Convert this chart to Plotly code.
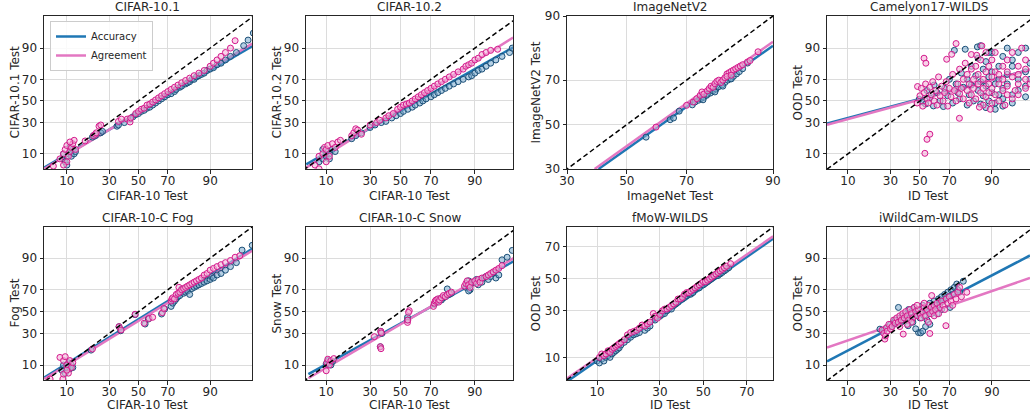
import plotly.graph_objects as go
from statistics import NormalDist

# ---------------- data (percent values) ----------------
DIAG = [0.5, 99.5]

C101_ACC = [(9,8),(9.5,7),(10,9),(10.5,10),(11,11),(11.5,9),(12,12),(10,6),(12.5,10),(13,11),(9,10),(11,13),
            (20.5,19),(21,20),(22,20),(25,22),(26,23),
            (35,27),(36,28),(40,30),(44,33),(46,35),(48,37),(50,38),(52,40),(54,41),(56,43),(58,44),(60,46),
            (62,48),(64,50),(66,52),(68,54),(70,56),(72,57),(74,59),(75,61),(77,63),(78,64),(80,66),(81,67),
            (82,68),(83,70),(84,70),(85,72),(86,73),(87,74),(88,75),(89,77),(90,78),(91,79),(92,81),(93,82),
            (94,84),(95,86),(96,88),(97,91),(97.5,93),(98,95)]
C101_AGR = [(6.4,5.7),(8,8),(9,10),(9.5,12),(10,14),(10.5,9),(11,11),(11.5,13),(12,15),(12.5,17),(13,12),(10,7),
            (9,6),(11,16),(17,16.6),(21,20),(22,21),(22.5,22),(24,27),(25,28),(36,31),(38,33),(42,33),(44,30.5),
            (44.5,34),(48,38),(50,40),(52,42),(54,43),(56,46),(58,47),(60,49),(62,51),(64,53),(66,55),(68,57),
            (70,59),(72,61),(74,63),(76,65),(78,67),(80,69),(82,71),(84,73),(86,75),(88,77),(90,80),(91,82),
            (92,84),(93,86),(94,88),(95,90),(95.8,92.8)]
C101_FIT_ACC = [(4.6,5.3),(97.9,90.8)]
C101_FIT_AGR = [(4.6,5.0),(97.9,91.8)]

C102_ACC = [(8,7),(9,8),(10,9),(10,11),(11,10),(12,12),(13,11),(9,12),(11,8),(20,18),(22,20),(25,22),
            (30,26),(33,28),(37,30),(40,31),(44,34),(47,36),(50,38),(52,40),(55,42),(58,44),(60,46),(63,48),
            (65,50),(67,52),(70,54),(72,56),(74,58),(76,60),(78,62),(80,64),(82,66),(84,68),(86,70),(88,72),
            (89,73),(90,75),(91,77),(92,78),(93,80),(94,82),(95,84),(96,86),(97,88),(97.3,90)]
C102_AGR = [(7,6),(8,9),(9,10),(9.5,13),(10,12),(10.5,14),(11,9),(12,15),(13,13),(14,16),(15,17),(8,5),(10,7),
            (20,20),(21,22),(22,25),(23,24),(25,21),(30,28),(34,30),(36,32),(40,34),(42,36),(45,38),(48,42),
            (50,44),(52,46),(54,47),(56,48),(58,50),(60,52),(62,54),(64,56),(66,58),(68,60),(70,62),(72,64),
            (74,66),(76,68),(78,70),(80,72),(82,74),(84,76),(86,78),(87,80),(88,81),(89,82),(90,84),(91,85),
            (92,87),(93,88),(94,89),(95.3,89.5)]
C102_FIT_ACC = [(5.2,6.2),(97.4,90.3)]
C102_FIT_AGR = [(5.2,5.3),(97.4,93.8)]

INV2_ACC = [(56.7,44.1),(64.8,52.3),(65.9,53.1),(67.7,56.3),(71.7,59.2),(72.5,60.5),(73.5,61.3),(74.2,62.0),
            (75,62.6),(75.8,63.5),(76.8,64.5),(77.5,65.5),(78.3,66.2),(79,67.3),(79.8,68),(80.5,69),(81.2,70),
            (81.8,70.6),(82.5,71.5),(83.2,72.5),(83.8,73.4),(84.5,74.5),(85.5,76.6),(78,65),(80,67.5),
            (82,70.5),(76,64),(74.8,61.5)]
INV2_AGR = [(60.1,48.8),(70,59),(72,60.5),(73,62),(74,63.5),(74.5,65),(75,64),(76,65.5),(76.5,66.5),(77,67.5),
            (77.5,67),(78,68.5),(78.5,69.5),(79,70),(79.5,69),(80,70),(80.5,71),(81,72.5),(81.5,73),(82,73.5),
            (82.5,74),(83,74.5),(83.5,75),(84,75.5),(84.5,76),(85.5,77),(86,77.5),(87.5,80.5),(81,71.5),(82,72)]
INV2_FIT_ACC = [(40.2,30),(90,82.4)]
INV2_FIT_AGR = [(38.9,30),(90,83.6)]

CAM_ACC = [(49.5,51.6),(52,49),(54,47),(55,60),(57,53),(59.5,45.2),(60,65),(62,58),(64,50),(66.2,44.6),(67,62),
           (69,55),(70,70),(72,48),(73,89),(74,66),(75,58),(76,52),(77,75),(78,63),(79,89.5),(80,46),(80,70),
           (81,56),(82,80),(82,65),(83,50),(84,73),(84.7,90.5),(85,60),(85,85),(86,68),(86,47),(87,78),(87,55),
           (88,43.6),(88,64),(88,83),(89,72),(89,50),(90,88),(90,58),(90,76),(91,66),(91,48),(92,80),(92,56),
           (92,70),(93,86),(93,62),(93,52),(94,74),(94,90),(94,66),(95,80),(95,56),(95,84),(96,70),(96,60),
           (96,88),(97,76),(97,64),(97,90),(97.5,82),(97.5,70),(98,86),(98,74),(98,91),(98,66),(97,54),(95,48),
           (93,45),(91,42),(89,88),(86,91)]
CAM_AGR = [(53.5,10.2),(55,17.6),(57,21),(52.9,85),(54.2,82),(48.3,63.7),(75.9,33.7),(68.3,84.4),(71.4,87.1),
           (74,91.8),(86.5,90.9),(82,87),(84.4,86.6),(48,48),(50,55),(51,62),(52,45),(53,58),(54,66),(55,52),
           (56,48),(57,63),(58,56),(59,68),(60,50),(61,60),(62,46),(63,72),(64,55),(65,64),(66,50),(67,58),
           (68,68),(69,45),(70,62),(71,54),(72,74),(73,60),(74,50),(75,66),(76,57),(76,78),(77,62),(78,70),
           (78,52),(79,82),(80,60),(80,74),(81,66),(81,48),(82,56),(82,78),(83,70),(83,62),(84,52),(84,80),
           (85,66),(85,74),(86,58),(86,84),(87,70),(87,46),(87,62),(88,76),(88,54),(88,88),(89,66),(89,80),
           (89,58),(90,72),(90,48),(90,84),(90,62),(91,76),(91,56),(91,88),(92,66),(92,74),(92,50),(93,80),
           (93,60),(93,70),(94,84),(94,56),(94,76),(94,64),(95,72),(95,88),(95,52),(96,66),(96,80),(96,74),
           (96,56),(97,84),(97,70),(97,62),(97,78),(98,88),(98,72),(98,80),(98,60),(97.5,66),(96.5,90),
           (95.5,60),(93.5,46),(89.5,42),(85.5,44)]
CAM_FIT_ACC = [(4.9,29.2),(97.5,77.6)]
CAM_FIT_AGR = [(4.9,28.2),(97.5,77.6)]

FOG_ACC = [(8.5,8),(9,10),(9.5,7),(10,9),(10.5,11),(11,8.5),(11.5,10),(12,9),(19.8,17.8),(36.4,35.9),(37.5,32.3),
           (47.6,47.1),(54.7,38.3),(57,42.9),(66,47.7),(68,52.5),(72,55),(73,58),(74,60),(75,62),(76,64),(77,65),
           (78,70.6),(79,67),(80,68),(81,69),(82,66),(83,71),(84,72),(85,73),(86,74),(87,75),(88,76),(89,77),
           (90,78),(90.5,80),(91,79),(92,81),(93,82),(94,84),(95,86),(96,88),(96.8,93),(97.9,94.4)]
FOG_AGR = [(5.7,5.3),(8.8,5.3),(8,13.6),(9,12),(9.5,14),(10,10),(10.5,7),(11,12),(11.5,9),(12,11),(9,6.7),(10,8),
           (20.5,18.5),(36.4,35.9),(37.8,33),(47.6,47.5),(54,39),(57.5,43.5),(60,44.6),(66.5,49),(67.5,53),
           (72,60),(72.5,62),(73,63),(74,62),(75,66),(76,67),(76.5,72),(77,68),(78,70),(79,71),(80,72),(81,73),
           (82,74),(83,75),(84,76),(85,77),(86,78),(87,79),(88,81),(89,82),(90,84),(91,85),(92,86),(93,87),
           (94,88),(95,89),(95.8,90.4),(96.5,91)]
FOG_FIT_ACC = [(4.6,5.7),(97.9,93.4)]
FOG_FIT_AGR = [(4.6,5.3),(97.9,92.8)]

SNOW_ACC = [(10,10.5),(10.5,12),(11,11),(11.5,10),(12,11.5),(36.7,31.8),(37.4,30),(36.4,20),(54.8,44.5),(54.8,42),
            (72,57),(73,59),(73.5,61),(74,60),(75,62),(76,61),(77,63),(78,64),(79,65.5),(79,70.7),(80,66),(81,67),
            (87,72),(87.5,74),(88,77),(88.5,70),(89,75),(90,76),(90.5,78),(91,74),(92,76),(92.5,79),(93,80),
            (93.5,78),(94,80),(94.5,82),(95,79),(95.5,81),(96,89.3),(96.7,90.4),(97.3,92.9),(88,69)]
SNOW_AGR = [(10,7.8),(10.2,11),(10.5,12.7),(11,10),(11.5,12),(12.5,13),(32.6,27.4),(36.7,31.8),(37,30.5),
            (36.4,20),(36.8,18.7),(54.8,39.8),(55,42),(56,50.9),(55.5,49.3),(71.5,55),(72,58),(72.5,60),(73,61),
            (74,62),(74.5,59),(75,61),(76,63),(77,65),(78,64),(79,66),(80,67),(81,68),(86.5,73),(87,75),
            (87.5,77),(88,74),(88.5,72),(89,76),(90,77),(90.5,75),(91,78),(91.5,76),(92,79),(93,80),(93.5,81),
            (94,82),(94.5,83),(95,84),(95.5,85),(96,86.5)]
SNOW_FIT_ACC = [(5.6,6.7),(97.6,89.0)]
SNOW_FIT_AGR = [(5.6,5.5),(97.6,90.4)]

FMOW_ACC = [(10,9),(10.5,8.5),(11,9.5),(11.5,9),(12,10),(12.5,10.5),(13,10),(13.5,11),(14,11.5),(14.5,12),(15,12.5),
            (15.5,13),(16,14),(17,15),(18,16),(19,17),(20,18),(21,18.5),(22,19),(24,20),(25,21),(26,22),(28,25),
            (30,27),(31,28),(32,28.5),(33,30),(34,31),(35,31),(36,33),(37,34),(38,35),(40,37),(41,38),(42,39),
            (43,40),(44,40),(45,41),(46,43),(47,44),(48,44),(50,46),(51,47),(52,48),(53,49),(54,50),(55,51),
            (56,52),(57,52),(58,53),(59,54),(60,55),(61,56),(62,57)]
FMOW_AGR = [(10.5,10),(11,11),(11.5,10.5),(12,11),(12.5,12),(13,11.5),(13.5,12.5),(14,13),(14.5,13.5),(15,14),
            (15.5,14.5),(16,15),(17,16),(18,18),(19,19),(20,19.5),(21,20),(22,21),(23,22.5),(24,22),(25,23),
            (26,24),(27.3,28.5),(28,27),(29,26),(30,28),(31,30),(32,31),(33,31),(34,32),(35,33),(36,34),(37,35),
            (38,37),(39,37),(40,38),(41,40),(42,41),(43,41),(44,42),(45,43),(46,44),(47,45),(48,46),(49,47),
            (50,48),(51,48),(52,49),(53,50),(54,51),(55,52),(56,53),(57,54),(58,55),(59,56),(60,57),(61,58),
            (62.9,59.6)]
FMOW_FIT_ACC = [(5.0,4.7),(80.0,74.2)]
FMOW_FIT_AGR = [(5.0,5.2),(80.0,75.4)]

IWC_ACC = [(23.8,33.7),(26,33),(28,35),(30,38),(32,40),(33,42),(35.1,54),(36,44),(37,40),(38,46),(40,48),
           (41.7,36.8),(42,52),(43,44),(44,50),(45,40),(46,54),(47,47),(48,52),(49,30.8),(50,44),(50.5,30.5),
           (51,49),(52,32),(52,56),(53,46),(54,52),(55,42),(56,50),(57,58),(58,48),(59,54),(60,60),(61,52),
           (62,56),(63,62),(64,58),(65,64),(66,60),(67,66),(68,62),(69,68),(70.4,54),(70,64),(71,70),(72,66),
           (73,72),(74.4,74.6),(75,70),(76,68),(78,76.7),(65,52),(62,48),(57,38),(54,36),(47,34),(38,42)]
IWC_AGR = [(25,33),(26,30),(26.6,25.5),(27,28),(27.5,35),(28,32),(29,38),(30,34),(31,36),(32,42),(33,39),(34,44),
           (35,40),(36,46),(37,42),(38.3,29.5),(38,48),(39,44),(40,50),(41,46),(42,42),(43,52),(44,48),(45,44),
           (46,54),(47,50),(48,46),(49,52),(50,48),(51,44),(52,50),(53,54),(54,46),(55,52),(56,40),(56,56),
           (57,30),(57,48),(58,54),(58.3,65),(59,50),(60,46),(60,56),(61,52),(62,58),(63,48),(64,54),(65,60),
           (66,56),(67,52),(67.8,36.8),(68,62),(69,58),(70,64),(71,60),(72,56),(73,66),(74,62),(75,68),(76,72),
           (77,64),(79.8,67.9),(53,58),(48,56),(44,40),(41,38),(36,36)]
IWC_FIT_ACC = [(4.9,11.6),(97.5,91.1)]
IWC_FIT_AGR = [(4.9,19.5),(97.5,79.0)]

TICKS_STD = [10, 30, 50, 70, 90]
TICKS_INV2 = [30, 50, 70, 90]
TICKS_FMOW = [10, 30, 50, 70]

TITLES = ["CIFAR-10.1", "CIFAR-10.2", "ImageNetV2", "Camelyon17-WILDS",
          "CIFAR-10-C Fog", "CIFAR-10-C Snow", "fMoW-WILDS", "iWildCam-WILDS"]
XLABELS = ["CIFAR-10 Test", "CIFAR-10 Test", "ImageNet Test", "ID Test",
           "CIFAR-10 Test", "CIFAR-10 Test", "ID Test", "ID Test"]
YLABELS = ["CIFAR-10.1 Test", "CIFAR-10.2 Test", "ImageNetV2 Test", "OOD Test",
           "Fog Test", "Snow Test", "OOD Test", "OOD Test"]

# ---------------- styling / layout ----------------
_nd = NormalDist()


def pr(v):
    return _nd.inv_cdf(v / 100.0)


W, H = 1030, 414
COLS_PX = [(44, 252), (306, 513), (567, 773), (827, 1030)]
ROWS_PX = [(16, 169), (227, 380)]
YLAB_PX = [14, 276, 535, 797]

ACC_LINE = "#1f77b4"
AGR_LINE = "#e377c2"
ACC_EDGE = "#1b4f77"
ACC_FILL = "rgba(120,170,205,0.55)"
AGR_EDGE = "#d4198c"
AGR_FILL = "rgba(245,180,218,0.6)"
FONT = "DejaVu Sans"
TXT = "#262626"

panels = [
    (C101_ACC, C101_AGR, C101_FIT_ACC, C101_FIT_AGR, TICKS_STD, TICKS_STD, (-1.69, 2.03), (-1.65, 2.06)),
    (C102_ACC, C102_AGR, C102_FIT_ACC, C102_FIT_AGR, TICKS_STD, TICKS_STD, (-1.63, 1.94), (-1.65, 2.06)),
    (INV2_ACC, INV2_AGR, INV2_FIT_ACC, INV2_FIT_AGR, TICKS_INV2, TICKS_INV2, (pr(30), pr(90)), (pr(30), pr(90))),
    (CAM_ACC, CAM_AGR, CAM_FIT_ACC, CAM_FIT_AGR, TICKS_STD, TICKS_STD, (-1.655, 1.96), (-1.65, 2.06)),
    (FOG_ACC, FOG_AGR, FOG_FIT_ACC, FOG_FIT_AGR, TICKS_STD, TICKS_STD, (-1.69, 2.03), (-1.64, 2.03)),
    (SNOW_ACC, SNOW_AGR, SNOW_FIT_ACC, SNOW_FIT_AGR, TICKS_STD, TICKS_STD, (-1.63, 1.94), (-1.64, 2.03)),
    (FMOW_ACC, FMOW_AGR, FMOW_FIT_ACC, FMOW_FIT_AGR, TICKS_FMOW, TICKS_FMOW, (-1.645, 0.84), (-1.65, 0.84)),
    (IWC_ACC, IWC_AGR, IWC_FIT_ACC, IWC_FIT_AGR, TICKS_STD, TICKS_STD, (-1.655, 1.96), (-1.64, 2.03)),
]

fig = go.Figure()
layout = dict(template="none", width=W, height=H,
              margin=dict(l=0, r=0, t=0, b=0, pad=0, autoexpand=False),
              paper_bgcolor="white", plot_bgcolor="white",
              font=dict(family=FONT, size=12, color=TXT),
              showlegend=True,
              legend=dict(x=50 / W, y=1 - 21 / H, xanchor="left", yanchor="top",
                          bgcolor="rgba(255,255,255,0.85)", bordercolor="#cccccc", borderwidth=1,
                          font=dict(size=10, family=FONT, color=TXT), tracegroupgap=0,
                          itemwidth=30))
annotations = []

for i, (acc, agr, fa, fg, xt, yt, xr, yr) in enumerate(panels):
    n = i + 1
    row, col = divmod(i, 4)
    xs = "x" if n == 1 else f"x{n}"
    ys = "y" if n == 1 else f"y{n}"
    x0p, x1p = COLS_PX[col]
    y0p, y1p = ROWS_PX[row]

    # fit lines
    fig.add_trace(go.Scatter(x=[pr(p[0]) for p in fa], y=[pr(p[1]) for p in fa], mode="lines",
                             line=dict(color=ACC_LINE, width=2.5), name="Accuracy",
                             showlegend=(n == 1), xaxis=xs, yaxis=ys, hoverinfo="skip"))
    fig.add_trace(go.Scatter(x=[pr(p[0]) for p in fg], y=[pr(p[1]) for p in fg], mode="lines",
                             line=dict(color=AGR_LINE, width=2.5), name="Agreement",
                             showlegend=(n == 1), xaxis=xs, yaxis=ys, hoverinfo="skip"))
    # scatter points
    fig.add_trace(go.Scatter(x=[pr(p[0]) for p in acc], y=[pr(p[1]) for p in acc], mode="markers",
                             marker=dict(size=6, color=ACC_FILL, line=dict(color=ACC_EDGE, width=1)),
                             showlegend=False, xaxis=xs, yaxis=ys))
    fig.add_trace(go.Scatter(x=[pr(p[0]) for p in agr], y=[pr(p[1]) for p in agr], mode="markers",
                             marker=dict(size=6, color=AGR_FILL, line=dict(color=AGR_EDGE, width=1)),
                             showlegend=False, xaxis=xs, yaxis=ys))
    # y = x
    fig.add_trace(go.Scatter(x=[pr(v) for v in DIAG], y=[pr(v) for v in DIAG], mode="lines",
                             line=dict(color="black", width=1.5, dash="5px,3px"),
                             showlegend=False, xaxis=xs, yaxis=ys, hoverinfo="skip"))

    axcommon = dict(showgrid=True, gridcolor="#dcdcdc", gridwidth=1, zeroline=False,
                    showline=True, linecolor=TXT, linewidth=1, mirror=True,
                    ticks="outside", ticklen=3.5, tickcolor=TXT, automargin=False,
                    tickfont=dict(size=12, family=FONT, color=TXT))
    layout["xaxis" if n == 1 else f"xaxis{n}"] = dict(
        axcommon, domain=[x0p / W, x1p / W], range=list(xr), anchor=ys, ticklabelstandoff=-3,
        tickmode="array", tickvals=[pr(v) for v in xt], ticktext=[str(v) for v in xt])
    layout["yaxis" if n == 1 else f"yaxis{n}"] = dict(
        axcommon, domain=[1 - y1p / H, 1 - y0p / H], range=list(yr), anchor=xs,
        tickmode="array", tickvals=[pr(v) for v in yt], ticktext=[str(v) for v in yt])

    cx = (x0p + x1p) / 2 / W
    title_y = [7, 218][row]
    xlab_y = [196, 405][row]
    annotations.append(dict(text=TITLES[i], x=cx, y=1 - title_y / H, xref="paper", yref="paper",
                            xanchor="center", yanchor="middle", showarrow=False,
                            font=dict(size=12, family=FONT, color=TXT)))
    annotations.append(dict(text=XLABELS[i], x=cx, y=1 - xlab_y / H, xref="paper", yref="paper",
                            xanchor="center", yanchor="middle", showarrow=False,
                            font=dict(size=12, family=FONT, color=TXT)))
    annotations.append(dict(text=YLABELS[i], x=YLAB_PX[col] / W, y=1 - (y0p + y1p) / 2 / H,
                            xref="paper", yref="paper", xanchor="center", yanchor="middle",
                            textangle=-90, showarrow=False,
                            font=dict(size=12, family=FONT, color=TXT)))

layout["annotations"] = annotations
fig.update_layout(**layout)
fig.write_html("out.html", config={"displayModeBar": False},
               post_script="document.body.style.margin='0px';document.body.style.padding='0px';"
                           "document.body.style.overflow='hidden';")
